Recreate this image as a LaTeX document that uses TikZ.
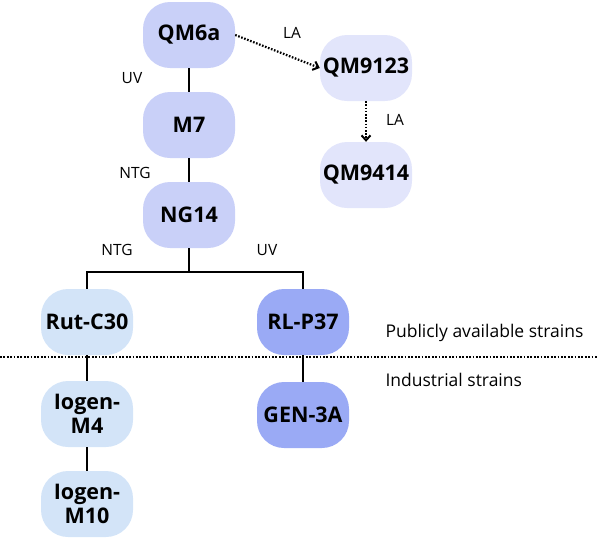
\documentclass[tikz,border=0pt]{standalone}
\usepackage{fontspec}
\setmainfont{Open Sans}
\usetikzlibrary{arrows.meta}
\definecolor{lavender}{HTML}{C9D0F8}
\definecolor{palelav}{HTML}{E2E5FB}
\definecolor{paleblue}{HTML}{D3E4F8}
\definecolor{deepblue}{HTML}{9AAAF5}
\begin{document}
\begin{tikzpicture}[x=1pt, y=-1pt,
    strain/.style={rounded corners=27pt, minimum width=92pt, minimum height=66pt,
      inner sep=0pt, align=center, font=\fontsize{21.5}{24}\selectfont\bfseries},
    method/.style={font=\fontsize{15.5}{18}\selectfont},
    link/.style={line width=2.4pt},
    mutlink/.style={line width=2.2pt, dash pattern=on 1.6pt off 1.6pt,
      -{Straight Barb[length=5pt,width=9pt,line width=2pt]}}]
  \useasboundingbox (0,0) rectangle (597,539);
  % strains
  \node[strain, fill=lavender] (qm6a) at (189,35) {QM6a};
  \node[strain, fill=lavender] (m7) at (189,125) {M7};
  \node[strain, fill=lavender] (ng14) at (189,215) {NG14};
  \node[strain, fill=palelav] (qm9123) at (366,68) {QM9123};
  \node[strain, fill=palelav] (qm9414) at (366,175) {QM9414};
  \node[strain, fill=paleblue] (rutc30) at (87,322) {Rut-C30};
  \node[strain, fill=deepblue] (rlp37) at (303,322) {RL-P37};
  \node[strain, fill=paleblue] (iogenm4) at (87,414) {Iogen-\\M4};
  \node[strain, fill=deepblue] (gen3a) at (303,415) {GEN-3A};
  \node[strain, fill=paleblue] (iogenm10) at (87,504) {Iogen-\\M10};
  % mutagenesis labels
  \node[method] (uv1) at (132,78) {UV};
  \node[method] (ntg1) at (135,173) {NTG};
  \node[method] (ntg2) at (117,250) {NTG};
  \node[method] (uv2) at (267,250) {UV};
  \node[method] (la1) at (292,33) {LA};
  \node[method] (la2) at (395,120) {LA};
  % lineage
  \coordinate (split) at (189,272);
  \draw[link] (qm6a) -- (m7);
  \draw[link] (m7) -- (ng14);
  \draw[link] (ng14) -- (split);
  \draw[link] (split) -| (rutc30);
  \draw[link] (split) -| (rlp37);
  \draw[link] (rutc30) -- (iogenm4);
  \draw[link] (iogenm4) -- (iogenm10);
  \draw[link] (rlp37) -- (gen3a);
  \draw[mutlink] (qm6a.east) -- (qm9123.west);
  \draw[mutlink] (qm9123) -- (qm9414);
  % public / industrial divide
  \coordinate (divl) at (0,357);
  \coordinate (divr) at (597,357);
  \draw[line width=2.4pt, dash pattern=on 1.7pt off 1.7pt] (divl) -- (divr);
  \node[method, font=\fontsize{17.5}{20}\selectfont, anchor=west] (public) at (382,333) {Publicly available strains};
  \node[method, font=\fontsize{17.5}{20}\selectfont, anchor=west] (industrial) at (382,380) {Industrial strains};
\end{tikzpicture}
\end{document}
